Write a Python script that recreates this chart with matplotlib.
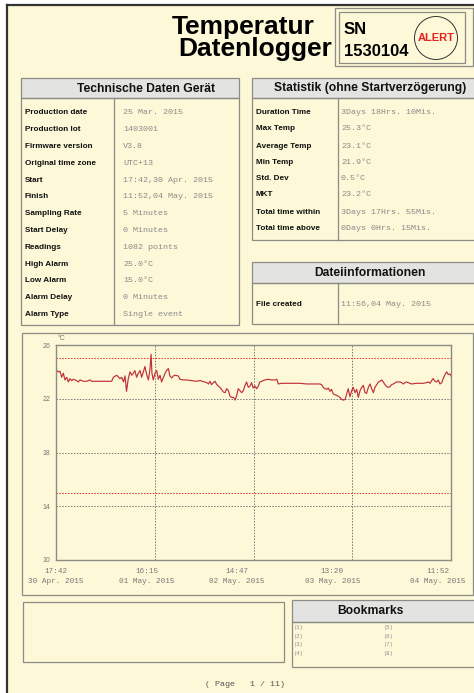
from datetime import datetime
import matplotlib.pyplot as plt
from matplotlib.patches import Rectangle, Circle
from matplotlib.transforms import ScaledTranslation

# ---- data ----
log_start = datetime(2015, 4, 30, 17, 42)
tick_times = [datetime(2015, 4, 30, 17, 42), datetime(2015, 5, 1, 16, 15),
              datetime(2015, 5, 2, 14, 47), datetime(2015, 5, 3, 13, 20),
              datetime(2015, 5, 4, 11, 52)]
tick_labels = ["17:42\n30 Apr. 2015", "16:15\n01 May. 2015", "14:47\n02 May. 2015",
               "13:20\n03 May. 2015", "11:52\n04 May. 2015"]

# hours since start / temperature
elapsed_h = [0.0, 0.15, 0.53, 0.91, 1.29, 1.67, 2.05, 2.44, 2.82, 3.2, 3.58, 3.96, 4.72, 5.1,
             5.48, 6.24, 7.0, 7.76, 8.14, 12.7, 13.1, 13.85, 14.6, 15.0, 15.4, 15.75, 16.1,
             16.5, 16.9, 17.3, 17.65, 18.0, 18.4, 18.8, 19.2, 19.55, 19.9, 20.3, 20.7, 21.1,
             21.45, 21.7, 21.9, 22.2, 22.6, 23.0, 23.35, 23.75, 24.1, 24.9, 25.25, 25.65, 26.0,
             26.4, 26.8, 27.15, 27.9, 28.3, 29.05, 29.8, 32.1, 32.9, 34.4, 34.8, 35.15, 35.5,
             35.9, 36.3, 36.7, 37.05, 37.4, 37.8, 38.2, 38.6, 38.95, 39.35, 39.7, 40.1, 40.5,
             40.9, 41.25, 41.6, 42.0, 42.4, 42.75, 43.1, 43.5, 43.9, 44.3, 44.65, 45.0, 45.4,
             45.8, 46.2, 46.55, 46.95, 47.7, 48.45, 49.2, 50.0, 50.4, 50.75, 51.5, 52.65, 54.2,
             55.7, 57.2, 58.75, 60.25, 60.65, 61.0, 61.4, 61.8, 62.15, 62.55, 62.9, 63.3, 64.1,
             64.8, 65.2, 65.6, 66.0, 66.35, 66.7, 67.1, 67.5, 67.85, 68.25, 68.65, 69.0, 69.4,
             69.8, 70.15, 70.55, 70.9, 71.3, 71.7, 72.05, 72.45, 72.8, 73.2, 73.6, 73.95, 74.35,
             74.7, 75.1, 75.5, 75.85, 76.25, 76.6, 77.0, 77.75, 78.5, 78.9, 79.3, 79.65, 80.05,
             80.4, 81.2, 82.3, 83.85, 84.6, 85.0, 85.4, 85.75, 86.1, 86.5, 86.9, 87.25, 87.65,
             88.05, 88.4, 88.8, 89.2, 89.55, 89.9, 90.17]
temp_c = [24.9, 24.1, 24.0, 24.05, 23.6, 23.9, 23.4, 23.6, 23.25, 23.5, 23.35, 23.45, 23.35, 23.25,
          23.4, 23.3, 23.3, 23.4, 23.3, 23.3, 23.6, 23.75, 23.5, 23.6, 23.25, 23.7, 22.55,
          23.5, 24.0, 23.75, 23.9, 24.1, 23.6, 23.9, 24.1, 23.6, 23.95, 24.4, 23.8, 23.4,
          24.2, 25.3, 23.9, 23.4, 23.9, 24.1, 23.45, 23.75, 23.25, 23.9, 24.1, 24.25, 23.7,
          23.55, 23.7, 23.75, 23.7, 23.45, 23.4, 23.4, 23.3, 23.35, 23.2, 23.1, 23.3, 23.05,
          23.2, 23.3, 23.05, 22.95, 22.85, 22.7, 22.5, 22.45, 22.75, 22.6, 22.2, 22.1, 22.1,
          21.9, 22.25, 22.75, 22.6, 22.45, 22.6, 22.95, 23.25, 22.85, 22.95, 23.2, 22.8, 22.95,
          22.75, 22.95, 23.25, 23.3, 23.4, 23.45, 23.4, 23.4, 23.45, 23.1, 23.15, 23.15, 23.15,
          23.15, 23.1, 23.1, 23.1, 23.05, 22.85, 22.75, 22.7, 22.8, 22.55, 22.7, 22.35, 22.25,
          22.1, 21.95, 21.9, 21.95, 22.35, 22.75, 22.15, 22.6, 22.85, 22.45, 22.7, 22.1, 22.6,
          22.85, 23.0, 22.45, 22.4, 22.85, 23.1, 22.75, 22.45, 22.85, 23.05, 23.25, 23.3, 23.4,
          23.25, 23.05, 22.9, 22.85, 22.9, 23.05, 23.1, 23.25, 23.25, 23.2, 23.1, 23.2, 23.25,
          23.2, 23.1, 23.15, 23.15, 23.2, 23.25, 23.15, 23.35, 23.5, 23.3, 23.25, 23.4, 23.1,
          23.2, 23.5, 23.8, 24.0, 23.8, 23.85, 23.7]

high_alarm = 25.0
low_alarm = 15.0
y_ticks = [10, 14, 18, 22, 26]

device_labels = ["Production date", "Production lot", "Firmware version", "Original time zone",
                 "Start", "Finish", "Sampling Rate", "Start Delay", "Readings", "High Alarm",
                 "Low Alarm", "Alarm Delay", "Alarm Type"]
device_values = ["25 Mar. 2015", "1403001", "V3.8", "UTC+13", "17:42,30 Apr. 2015",
                 "11:52,04 May. 2015", "5 Minutes", "0 Minutes", "1082 points", "25.0°C",
                 "15.0°C", "0 Minutes", "Single event"]
stat_labels = ["Duration Time", "Max Temp", "Average Temp", "Min Temp", "Std. Dev", "MKT",
               "Total time within", "Total time above"]
stat_values = ["3Days 18Hrs. 10Mis.", "25.3°C", "23.1°C", "21.9°C", "0.5°C", "23.2°C",
               "3Days 17Hrs. 55Mis.", "0Days 0Hrs. 15Mis."]
file_labels = ["File created"]
file_values = ["11:56,04 May. 2015"]
bookmarks = ["(1)", "(2)", "(3)", "(4)", "(5)", "(6)", "(7)", "(8)"]

# ---- style ----
CREAM = "#fcf8d8"
HEAD = "#e3e3e1"
EDGE = "#8c8c84"
VAL = "#8a8a8a"
SANS = "Liberation Sans"
MONO = "Liberation Mono"

fig = plt.figure(figsize=(4.74, 6.93), dpi=100)
fig.patch.set_facecolor("white")

# page canvas in pixel coordinates
doc = fig.add_axes([0, 0, 1, 1])
doc.set_xlim(0, 474)
doc.set_ylim(693, 0)
doc.axis("off")

doc.add_patch(Rectangle((7, 5), 470, 690, facecolor=CREAM, edgecolor="none"))
doc.plot([7, 7], [5, 693], color="#333333", lw=1.6)
doc.plot([7, 474], [5, 5], color="#333333", lw=1.6)

# title and serial box
doc.text(315, 27, "Temperatur", ha="right", va="center", fontsize=19, fontweight="bold", family=SANS)
doc.text(332, 49, "Datenlogger", ha="right", va="center", fontsize=19, fontweight="bold", family=SANS)
doc.add_patch(Rectangle((335, 8), 138, 58, fill=False, edgecolor=EDGE, lw=0.9))
doc.add_patch(Rectangle((339, 12), 126, 51, fill=False, edgecolor=EDGE, lw=0.9))
doc.text(344, 30, "SN", ha="left", va="center", fontsize=12, fontweight="bold", family=SANS)
doc.text(344, 51, "1530104", ha="left", va="center", fontsize=12, fontweight="bold", family=SANS)
doc.add_patch(Circle((436, 38), 21.5, fill=False, edgecolor="#333333", lw=0.7))
doc.text(436, 38, "ALERT", ha="center", va="center", fontsize=8, fontweight="bold",
         color="#e82020", family=SANS)


def draw_table(x0, x1, top, head_bottom, bottom, col_x, val_pad, title, title_x,
               labels, values, row_ys):
    doc.add_patch(Rectangle((x0, top), x1 - x0, head_bottom - top, facecolor=HEAD,
                            edgecolor=EDGE, lw=0.9))
    doc.add_patch(Rectangle((x0, head_bottom), x1 - x0, bottom - head_bottom, fill=False,
                            edgecolor=EDGE, lw=0.9))
    doc.plot([col_x, col_x], [head_bottom, bottom], color=EDGE, lw=0.9)
    doc.text(title_x, (top + head_bottom) / 2 + 0.5, title, ha="center", va="center",
             fontsize=8.7, fontweight="bold", family=SANS, color="#111111")
    for lab, val, y in zip(labels, values, row_ys):
        doc.text(x0 + 4, y, lab, ha="left", va="center", fontsize=5.9, fontweight="bold",
                 family=SANS, color="#111111")
        doc.text(col_x + val_pad, y, val, ha="left", va="center", fontsize=6, family=MONO,
                 color=VAL)


draw_table(21, 239, 78, 98, 325, 114, 9, "Technische Daten Gerät", 146,
           device_labels, device_values, [113 + i * 16.8 for i in range(len(device_labels))])
draw_table(252, 480, 78, 98, 240, 338, 3, "Statistik (ohne Startverzögerung)", 370,
           stat_labels, stat_values, [112, 129, 146, 162, 178, 195, 213, 229])
draw_table(252, 480, 262, 283, 324, 338, 3, "Dateiinformationen", 370,
           file_labels, file_values, [305])

# chart frame
doc.add_patch(Rectangle((22, 333), 451, 262, fill=False, edgecolor=EDGE, lw=0.9))

# bottom boxes
doc.add_patch(Rectangle((23, 602), 261, 60, fill=False, edgecolor=EDGE, lw=0.9))
doc.add_patch(Rectangle((292, 600), 190, 22, facecolor=HEAD, edgecolor=EDGE, lw=0.9))
doc.add_patch(Rectangle((292, 622), 190, 45, fill=False, edgecolor=EDGE, lw=0.9))
doc.text(370, 611, "Bookmarks", ha="center", va="center", fontsize=8.7, fontweight="bold",
         family=SANS, color="#111111")
for i, bm in enumerate(bookmarks):
    col, row = divmod(i, 4)
    doc.text(293 + col * 90, 628 + row * 8.4, bm, ha="left", va="center", fontsize=4,
             family=MONO, color=VAL)
doc.text(245, 685, "( Page   1 / 11)", ha="center", va="center", fontsize=6, family=MONO,
         color="#555555")

# ---- temperature chart ----
W, H = 474, 693
ax = fig.add_axes([56 / W, (H - 560) / H, (451 - 56) / W, (560 - 345) / H])
ax.set_facecolor(CREAM)
total_h = (tick_times[-1] - log_start).total_seconds() / 3600
tick_h = [(t - log_start).total_seconds() / 3600 for t in tick_times]
ax.set_xlim(0, total_h)
ax.set_ylim(10, 26)

for v in y_ticks[1:-1]:
    ax.axhline(v, color="#777777", lw=0.7, ls=(0, (1.5, 1.5)))
for v in tick_h[1:-1]:
    ax.axvline(v, color="#777777", lw=0.7, ls=(0, (1.5, 1.5)))
ax.axhline(high_alarm, color="#e03030", lw=0.7, ls=(0, (1.5, 1.5)))
ax.axhline(low_alarm, color="#e03030", lw=0.7, ls=(0, (1.5, 1.5)))

ax.plot(elapsed_h, temp_c, color="#c0303a", lw=0.85)

for s in ax.spines.values():
    s.set_color(EDGE)
    s.set_linewidth(1.0)
ax.set_yticks(y_ticks)
ax.set_yticklabels([str(v) for v in y_ticks])
ax.set_xticks(tick_h)
ax.set_xticklabels(tick_labels)
ax.tick_params(axis="both", length=0, colors="#777777")
ax.tick_params(axis="y", labelsize=5, pad=4)
ax.tick_params(axis="x", labelsize=5.5, pad=6)
for lab in ax.get_yticklabels():
    lab.set_family(SANS)
shifts = [0, -8, -17, -20, -13]
for lab, dx in zip(ax.get_xticklabels(), shifts):
    lab.set_family(MONO)
    lab.set_linespacing(1.5)
    lab.set_transform(lab.get_transform() + ScaledTranslation(dx / 100, 0, fig.dpi_scale_trans))
ax.text(0.005, 1.015, "°C", transform=ax.transAxes, fontsize=5, color="#777777",
        ha="left", va="bottom", family=SANS)

fig.savefig("out.png", dpi=100, facecolor=fig.get_facecolor())
